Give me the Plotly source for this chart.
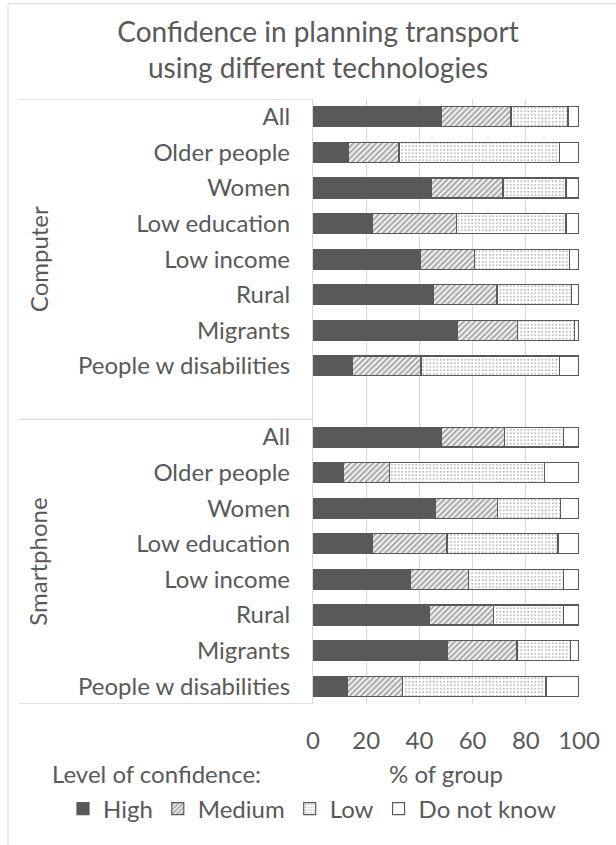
import plotly.graph_objects as go

# ---------------- data ----------------
groups = ["Computer", "Smartphone"]
categories = ["All", "Older people", "Women", "Low education", "Low income",
              "Rural", "Migrants", "People w disabilities"]
levels = ["High", "Medium", "Low", "Do not know"]

computer_high = [48.1, 13.2, 44.5, 22.2, 40.3, 45.4, 54.1, 14.7]
computer_medium = [26.3, 19.1, 26.9, 31.7, 20.3, 23.8, 22.7, 25.9]
computer_low = [21.5, 60.3, 23.7, 41.2, 35.9, 27.9, 21.4, 52.0]
computer_dk = [4.1, 7.4, 4.9, 4.9, 3.5, 2.9, 1.8, 7.4]

smartphone_high = [48.2, 11.5, 46.2, 22.2, 36.8, 43.7, 50.7, 12.8]
smartphone_medium = [23.8, 17.3, 23.3, 28.2, 21.7, 24.2, 26.0, 20.9]
smartphone_low = [22.2, 58.2, 23.6, 41.7, 35.7, 26.3, 20.0, 53.9]
smartphone_dk = [5.8, 13.0, 6.9, 7.9, 5.8, 5.8, 3.3, 12.4]

x_ticks = [0, 20, 40, 60, 80, 100]

# ---------------- layout helpers ----------------
W, H = 616, 845
L, R, T, B = 313, 579, 99, 704          # plot area in px
FONT = "Lato, Carlito, Calibri, 'Open Sans', sans-serif"
GREY_TXT = "#595959"
DARK = "#595959"
LIGHT = "#d9d9d9"
FS = 24


def px_x(px):
    return (px - L) / (R - L)


def px_y(py):
    return (B - py) / (B - T)


n = len(categories)
slot_step = n + 1                       # one empty slot between the groups
y_pos = [g * slot_step + i for g in range(len(groups)) for i in range(n)]
y_labels = categories * len(groups)
last_slot = y_pos[-1]

series = {
    "High": computer_high + smartphone_high,
    "Medium": computer_medium + smartphone_medium,
    "Low": computer_low + smartphone_low,
    "Do not know": computer_dk + smartphone_dk,
}
styles = {
    "High": dict(color=DARK),
    "Medium": dict(color="white", pattern=dict(shape="/", fgcolor=DARK, bgcolor="white",
                                               size=4, solidity=0.6)),
    "Low": dict(color="white", pattern=dict(shape=".", fgcolor=DARK, bgcolor="white",
                                            size=3.5, solidity=0.22)),
    "Do not know": dict(color="white"),
}

fig = go.Figure()
for lev in levels:
    mk = dict(styles[lev])
    mk["line"] = dict(color=DARK, width=1.2)
    fig.add_trace(go.Bar(
        x=series[lev], y=y_pos, orientation="h", name=lev,
        marker=mk, hoverinfo="x+name",
    ))

shapes = []
# outer frame (cropped on right/bottom)
shapes.append(dict(type="rect", xref="paper", yref="paper",
                   x0=px_x(8), x1=px_x(W + 20), y0=px_y(H + 20), y1=px_y(3.5),
                   line=dict(color=LIGHT, width=1), layer="below"))
# category table horizontal lines
bounds = [-0.5]
for g in range(len(groups)):
    bounds.append(g * slot_step + n - 0.5 + (1 if g < len(groups) - 1 else 0))
for yb in bounds:
    shapes.append(dict(type="line", xref="paper", yref="y",
                       x0=px_x(19), x1=0, y0=yb, y1=yb,
                       line=dict(color=LIGHT, width=1.3)))

annotations = []
for g, name in enumerate(groups):
    annotations.append(dict(text=name, xref="paper", yref="y", x=px_x(38),
                            y=(bounds[g] + bounds[g + 1]) / 2, textangle=-90,
                            showarrow=False, xanchor="center", yanchor="middle",
                            font=dict(size=FS, color=GREY_TXT, family=FONT)))
annotations.append(dict(text="Level of confidence:", xref="paper", yref="paper",
                        x=px_x(50), y=px_y(773), xanchor="left", yanchor="middle",
                        showarrow=False, font=dict(size=FS, color=GREY_TXT, family=FONT)))
annotations.append(dict(text="% of group", xref="paper", yref="paper",
                        x=0.5, y=px_y(773), xanchor="center", yanchor="middle",
                        showarrow=False, font=dict(size=FS, color=GREY_TXT, family=FONT)))

fig.update_layout(
    width=W, height=H,
    margin=dict(l=L, r=W - R, t=T, b=H - B, autoexpand=False),
    paper_bgcolor="white", plot_bgcolor="white",
    barmode="stack", bargap=0.44,
    font=dict(family=FONT, color=GREY_TXT, size=FS),
    title=dict(text="Confidence in planning transport<br>using different technologies",
               x=318 / W, xanchor="center", y=1 - 42 / H, yanchor="middle",
               font=dict(size=28, color=GREY_TXT, family=FONT)),
    xaxis=dict(range=[0, 100], tickvals=x_ticks, ticktext=[str(v) for v in x_ticks],
               showgrid=True, gridcolor=LIGHT, gridwidth=1.3, zeroline=False,
               showline=False, ticks="", ticklabelstandoff=20,
               tickfont=dict(size=FS, color=GREY_TXT, family=FONT), fixedrange=True),
    yaxis=dict(range=[last_slot + 0.5, -0.5], tickvals=y_pos, ticktext=y_labels,
               showgrid=False, zeroline=False, showline=True, linecolor=LIGHT,
               linewidth=1.3, ticks="", ticklabelstandoff=17,
               tickfont=dict(size=FS, color=GREY_TXT, family=FONT), fixedrange=True),
    legend=dict(orientation="h", xref="paper", yref="paper",
                x=px_x(63), xanchor="left", y=px_y(809),
                yanchor="middle", font=dict(size=FS, color=GREY_TXT, family=FONT),
                itemwidth=30, traceorder="normal", bgcolor="rgba(0,0,0,0)"),
    shapes=shapes, annotations=annotations,
)

fig.write_html("out.html")
